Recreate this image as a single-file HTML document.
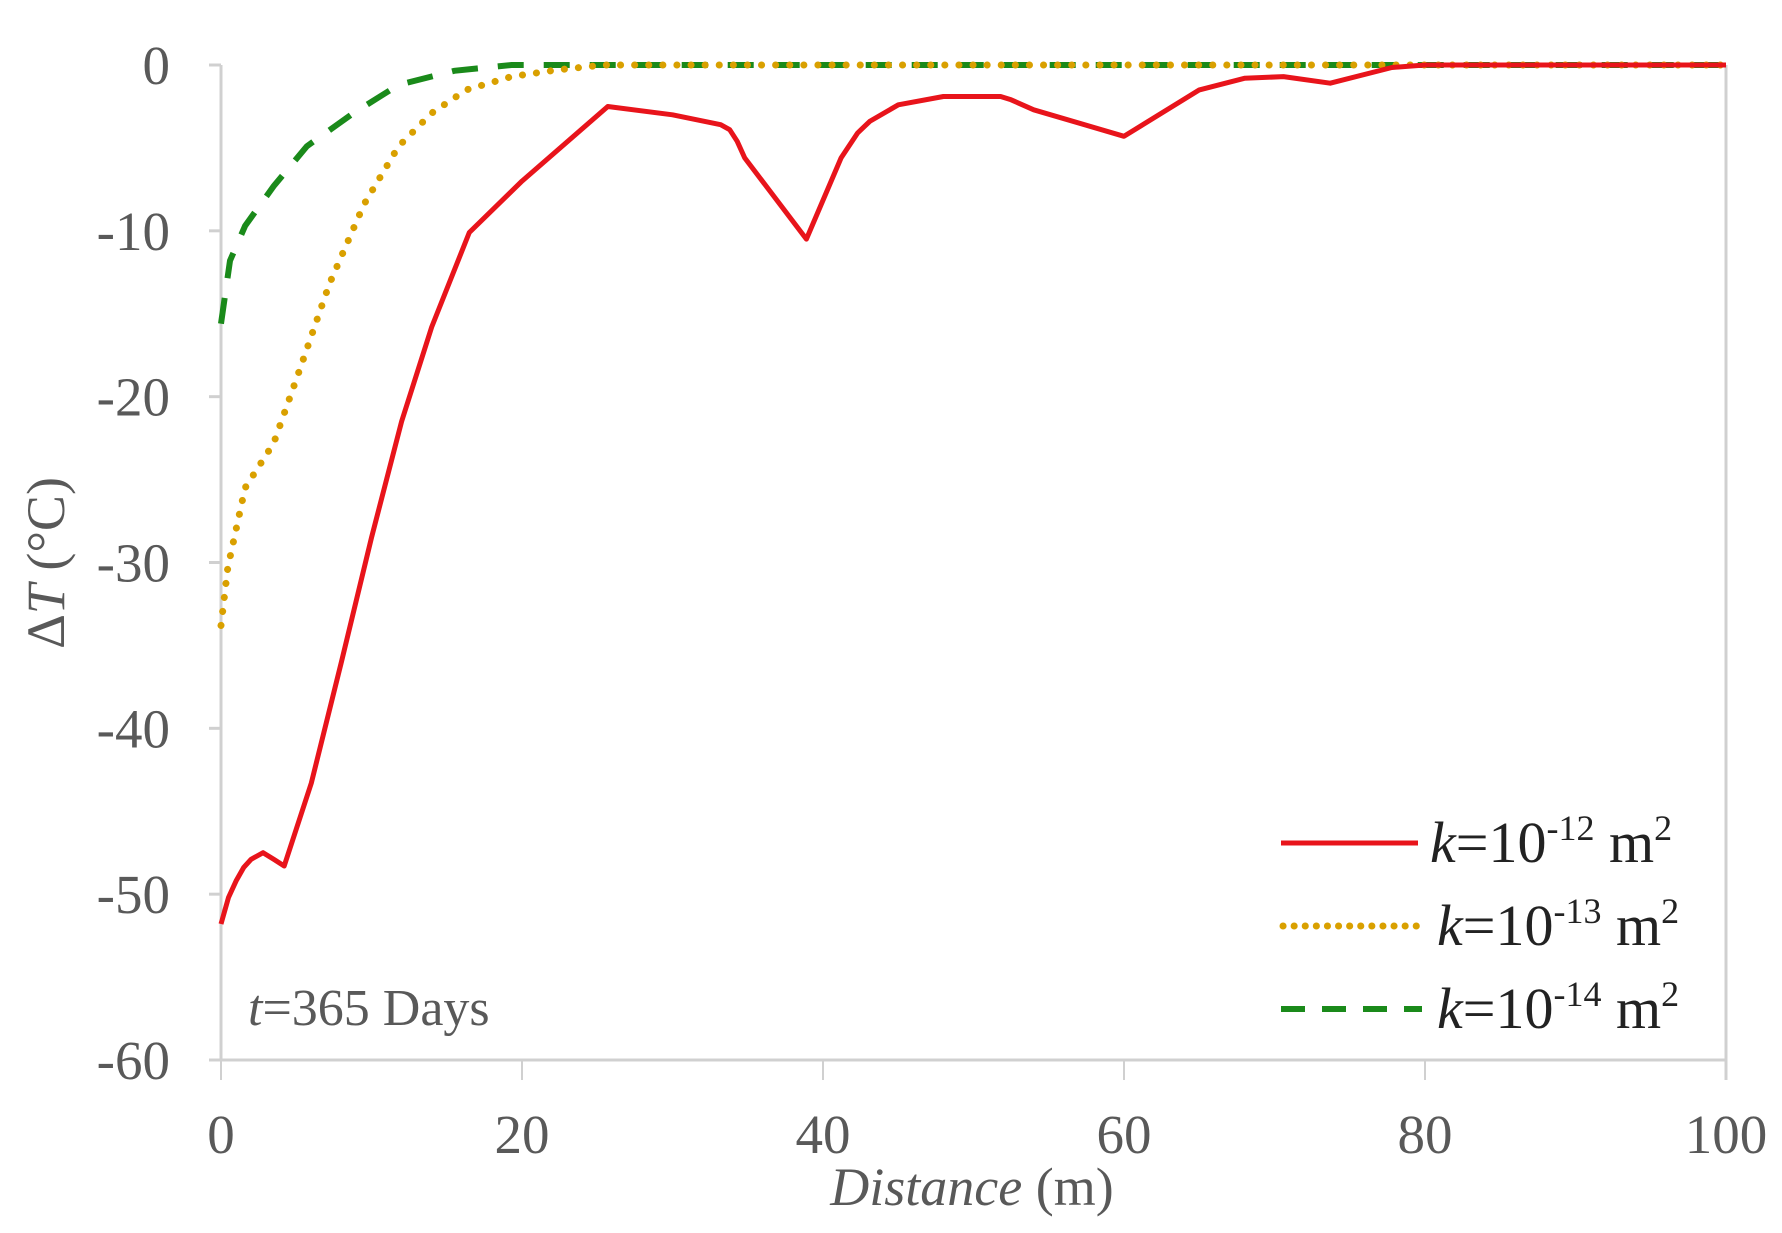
<!DOCTYPE html>
<html><head><meta charset="utf-8">
<style>
html,body{margin:0;padding:0;background:#fff;}
svg{display:block;}
text{font-family:"Liberation Serif",serif;fill:#595959;}
</style></head>
<body>
<svg id="chart" width="1782" height="1233" viewBox="0 0 1782 1233">
  <g id="axes"></g>
  <g id="series"></g>
  <text transform="translate(64,563) rotate(-90)" text-anchor="middle" font-size="54">Δ<tspan font-style="italic">T</tspan> (°C)</text>
  <text x="972" y="1205" text-anchor="middle" font-size="54"><tspan font-style="italic">Distance</tspan> (m)</text>
  <text x="248" y="1025" font-size="52"><tspan font-style="italic">t</tspan>=365 Days</text>
  <g>
    <g>
      <line x1="1281" y1="843" x2="1418" y2="843" stroke="#e8141b" stroke-width="5"/>
      <text x="1430" y="862" font-size="58" style="fill:#222"><tspan font-style="italic">k</tspan>=10<tspan dy="-22" font-size="36">-12</tspan><tspan dy="22"> m</tspan><tspan dy="-22" font-size="36">2</tspan></text>
    </g>
    <g>
      <line x1="1283" y1="926" x2="1418" y2="926" stroke="#d9a000" stroke-width="7" stroke-dasharray="0.1 11" stroke-linecap="round"/>
      <text x="1437" y="945" font-size="58" style="fill:#222"><tspan font-style="italic">k</tspan>=10<tspan dy="-22" font-size="36">-13</tspan><tspan dy="22"> m</tspan><tspan dy="-22" font-size="36">2</tspan></text>
    </g>
    <g>
      <line x1="1281" y1="1009" x2="1422" y2="1009" stroke="#1a8a1a" stroke-width="6" stroke-dasharray="24 17"/>
      <text x="1437" y="1028" font-size="58" style="fill:#222"><tspan font-style="italic">k</tspan>=10<tspan dy="-22" font-size="36">-14</tspan><tspan dy="22"> m</tspan><tspan dy="-22" font-size="36">2</tspan></text>
    </g>
  </g>
</svg>
<script>
const xTicks = [0, 20, 40, 60, 80, 100];
const yTicks = [0, -10, -20, -30, -40, -50, -60];
const redX = [0,0.5,1,1.5,2,2.8,3.5,4.2,6,8,10,12,14,16.5,20,25.7,30,33.2,33.8,34.3,34.8,38.9,41.2,42.3,43.1,45,48,51.8,52.5,54,60,65,68,70.6,73.7,77.8,80,100];
const redY = [-51.8,-50.2,-49.2,-48.4,-47.9,-47.5,-47.9,-48.3,-43.3,-36,-28.5,-21.5,-15.8,-10.1,-7,-2.5,-3,-3.6,-3.9,-4.6,-5.6,-10.5,-5.6,-4.1,-3.4,-2.4,-1.9,-1.9,-2.1,-2.7,-4.3,-1.5,-0.8,-0.7,-1.1,-0.15,0,0];
const orangeX = [0,0.45,1.6,3.5,5.1,7.2,9.5,11.8,14,16.3,19.3,22.3,25.4,100];
const orangeY = [-33.8,-30.3,-25.5,-22.8,-18.7,-13.2,-8.4,-4.9,-2.9,-1.5,-0.7,-0.3,0,0];
const greenX = [0,0.6,1.6,3.5,5.7,8.8,11.8,15.5,19.3,100];
const greenY = [-15.6,-11.8,-9.7,-7.3,-4.9,-2.9,-1.2,-0.35,0,0];

const X0=221, X1=1726, Y0=65, Y1=1060;
const sx = v => X0 + (v-0)/(100-0)*(X1-X0);
const sy = v => Y0 + (0-v)/(60)*(Y1-Y0);
const NS="http://www.w3.org/2000/svg";
const axes=document.getElementById('axes');
const series=document.getElementById('series');
function mk(tag, attrs, parent){const e=document.createElementNS(NS,tag);for(const k in attrs)e.setAttribute(k,attrs[k]);parent.appendChild(e);return e;}

let yl=mk('line',{x1:sx(0),y1:sy(0),x2:sx(0),y2:sy(-60),stroke:'#d0d0d0','stroke-width':3},axes);


let rl=mk('line',{x1:sx(100),y1:sy(0),x2:sx(100),y2:sy(-60)+20,stroke:'#d0d0d0','stroke-width':3},axes);


let xl=mk('line',{x1:sx(0)-12,y1:sy(-60),x2:sx(100),y2:sy(-60),stroke:'#d0d0d0','stroke-width':3},axes);



yTicks.forEach(v=>{
  const t=mk('line',{x1:sx(0)-12,y1:sy(v),x2:sx(0),y2:sy(v),stroke:'#d0d0d0','stroke-width':3},axes);
  
  
  const l=mk('text',{x:170,y:sy(v)+19,'text-anchor':'end','font-size':55},axes);
  l.textContent=String(v);
  
  
});
xTicks.forEach(v=>{
  const t=mk('line',{x1:sx(v),y1:sy(-60),x2:sx(v),y2:sy(-60)+20,stroke:'#d0d0d0','stroke-width':2},axes);
  
  
  const l=mk('text',{x:sx(v),y:1153,'text-anchor':'middle','font-size':55},axes);
  l.textContent=String(v);
  
  
});

function path(xs,ys){return xs.map((x,i)=>(i?'L':'M')+sx(x).toFixed(1)+','+sy(ys[i]).toFixed(1)).join(' ');}
const g=mk('path',{d:path(greenX,greenY),fill:'none',stroke:'#1a8a1a','stroke-width':6,'stroke-dasharray':'26 20'},series);


const o=mk('path',{d:path(orangeX,orangeY),fill:'none',stroke:'#d9a000','stroke-width':7,'stroke-dasharray':'0.1 14','stroke-linecap':'round'},series);


const r=mk('path',{d:path(redX,redY),fill:'none',stroke:'#e8141b','stroke-width':5,'stroke-linejoin':'round'},series);


</script>
</body></html>
